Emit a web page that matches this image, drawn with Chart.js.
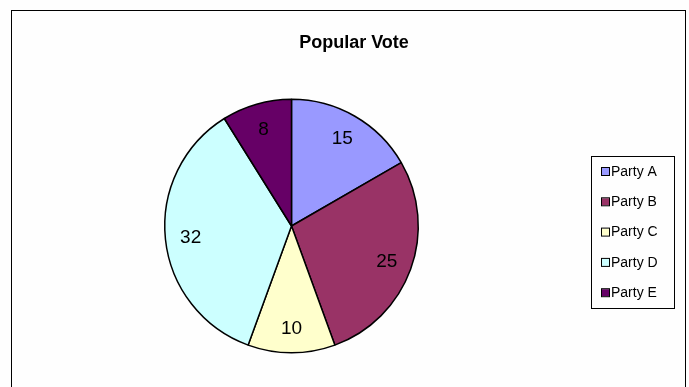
<!DOCTYPE html>
<html lang="en">
<head>
  <meta charset="UTF-8">
  <title>Popular Vote</title>
  <style>
    html, body { margin: 0; padding: 0; background: #fefefe; }
    .wrap { width: 689px; height: 387px; position: relative; }
  </style>
</head>
<body>
  <div class="wrap">
    <canvas class="pieChart" width="689" height="387"></canvas>
  </div>

  <script src="https://cdn.jsdelivr.net/npm/chart.js"></script>
  <script>
const parties = ['Party A', 'Party B', 'Party C', 'Party D', 'Party E'];
const votes = [15, 25, 10, 32, 8];
const colors = ['#9999ff', '#993366', '#ffffcc', '#ccffff', '#660066'];
const chartTitle = 'Popular Vote';

const font = '"Liberation Sans", Arial, sans-serif';

// frame, title, slice values and the boxed legend
const extras = {
  id: 'extras',
  beforeDraw(chart) {
    const ctx = chart.ctx;
    ctx.save();
    ctx.fillStyle = '#fefefe';
    ctx.fillRect(0, 0, chart.width, chart.height);
    ctx.strokeStyle = '#000';
    ctx.lineWidth = 1;
    ctx.strokeRect(11.5, 10.5, 674, 400);
    ctx.restore();
  },
  afterDraw(chart) {
    const ctx = chart.ctx;
    ctx.save();

    ctx.fillStyle = '#000';
    ctx.font = 'bold 18px ' + font;
    ctx.textAlign = 'center';
    ctx.textBaseline = 'middle';
    ctx.fillText(chartTitle, 354, 43);

    // values inside the slices
    ctx.font = '19px ' + font;
    chart.getDatasetMeta(0).data.forEach((arc, i) => {
      const p = arc.getProps(['x', 'y', 'startAngle', 'endAngle', 'outerRadius'], true);
      const mid = (p.startAngle + p.endAngle) / 2;
      const r = p.outerRadius * 0.8;
      ctx.fillText(String(votes[i]), p.x + Math.cos(mid) * r, p.y + Math.sin(mid) * r + 1);
    });

    // legend
    ctx.strokeStyle = '#000';
    ctx.lineWidth = 1;
    ctx.strokeRect(591.5, 156.5, 83, 152);
    ctx.font = '14px ' + font;
    ctx.textAlign = 'left';
    parties.forEach((name, i) => {
      const y = 171 + i * 30.3;
      ctx.fillStyle = colors[i];
      ctx.fillRect(602, y - 3, 7, 7);
      ctx.strokeStyle = '#000';
      ctx.strokeRect(601.5, y - 3.5, 8, 8);
      ctx.fillStyle = '#000';
      ctx.fillText(name, 611, y + 1);
    });
    ctx.restore();
  }
};

new Chart(document.querySelector('.pieChart'), {
  type: 'pie',
  data: {
    labels: parties,
    datasets: [{
      data: votes,
      backgroundColor: colors,
      borderColor: '#000',
      borderWidth: 1.5
    }]
  },
  options: {
    responsive: false,
    animation: false,
    layout: { padding: { left: 164, right: 270, top: 97, bottom: 32 } },
    plugins: {
      legend: { display: false },
      title: { display: false },
      tooltip: { enabled: false }
    }
  },
  plugins: [extras]
});
  </script>
</body>
</html>
